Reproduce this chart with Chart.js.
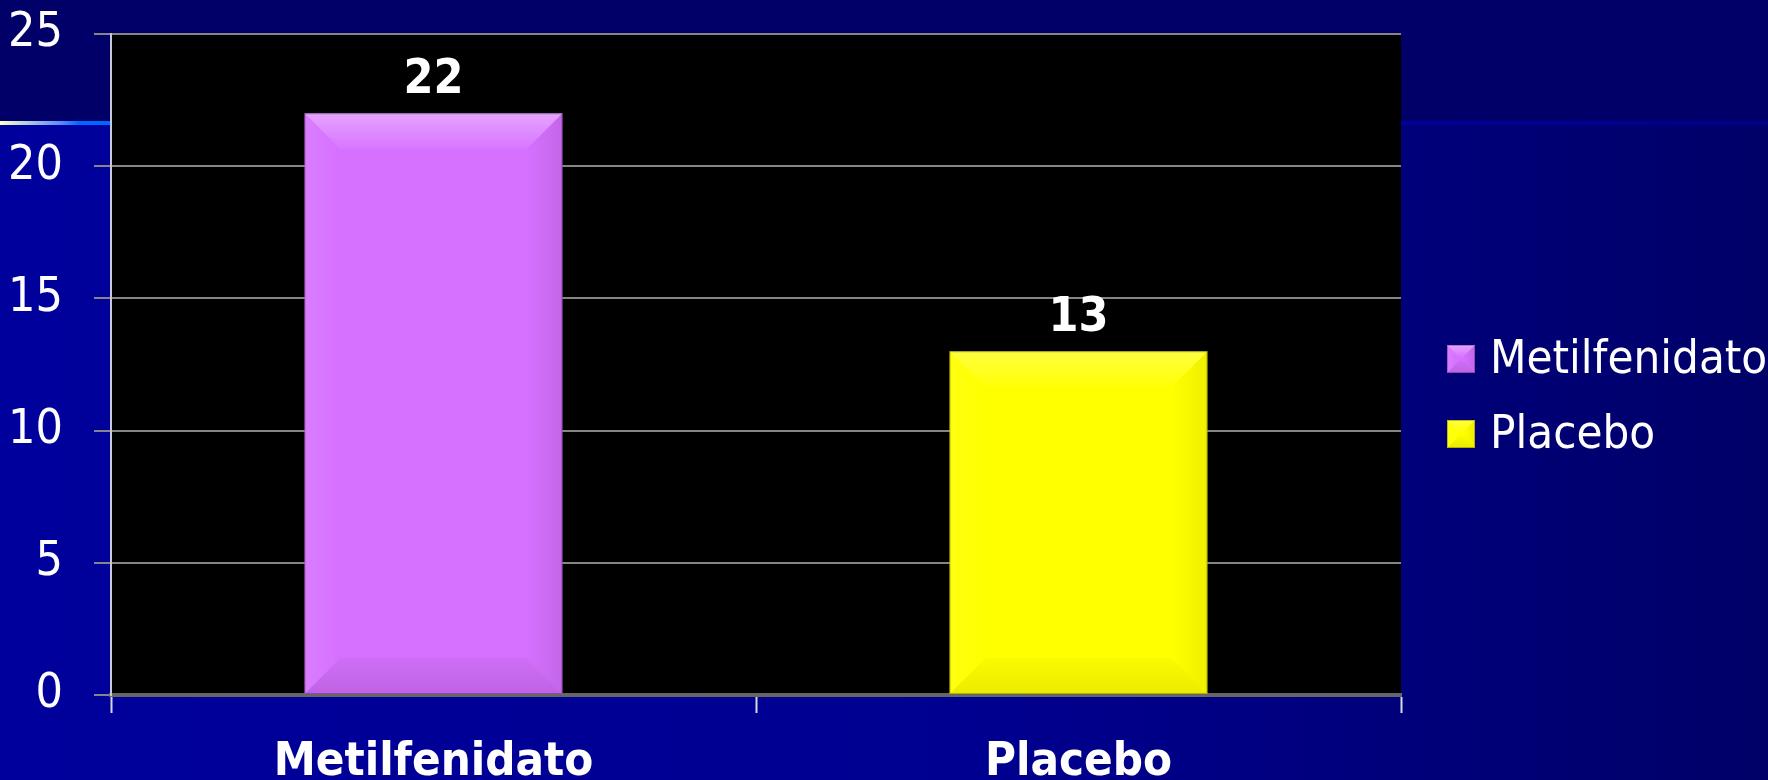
<!DOCTYPE html>
<html>
<head>
<meta charset="utf-8">
<script src="https://cdn.jsdelivr.net/npm/chart.js"></script>
<style>
  html, body { margin: 0; padding: 0; background: #000066; overflow: hidden; }
  #wrap { width: 1768px; height: 780px; position: relative; }
</style>
</head>
<body>
<div id="wrap"><canvas id="c" width="1768" height="780"></canvas></div>
<script>
// ---- data ----
const categories = ['Metilfenidato', 'Placebo'];
const values = [22, 13];
const barColors = ['#D670FF', '#FFFF00'];
const yMin = 0;
const yMax = 25;
const yStep = 5;

const FONT = "'DejaVu Sans Condensed', 'DejaVu Sans', sans-serif";

const backgroundPlugin = {
  id: 'bg',
  beforeDraw(chart) {
    const ctx = chart.ctx;
    const W = chart.width, H = chart.height;
    const a = chart.chartArea;
    ctx.save();
    // top band
    ctx.fillStyle = '#000068';
    ctx.fillRect(0, 0, W, 122);
    // lower band gradient
    const g = ctx.createLinearGradient(0, 0, W, 0);
    g.addColorStop(0, '#00009C');
    g.addColorStop(0.55, '#000090');
    g.addColorStop(1, '#000068');
    ctx.fillStyle = g;
    ctx.fillRect(0, 122, W, H - 122);
    // divider line
    const lg = ctx.createLinearGradient(0, 0, W, 0);
    lg.addColorStop(0, '#FFFFC8');
    lg.addColorStop(0.035, '#5588FF');
    lg.addColorStop(0.045, '#0066FF');
    lg.addColorStop(0.07, '#0066FF');
    lg.addColorStop(0.8, '#000099');
    lg.addColorStop(1, '#00008C');
    ctx.fillStyle = lg;
    ctx.fillRect(0, 121, W, 4);
    // plot area
    ctx.fillStyle = '#000000';
    ctx.fillRect(a.left, a.top, a.right - a.left, a.bottom - a.top);
    ctx.restore();
  }
};

function bevel(ctx, l, t, r, b, size, strength) {
  const s = Math.min(size, (r - l) / 2, (b - t) / 2);
  ctx.save();
  // top
  let g = ctx.createLinearGradient(0, t, 0, t + s);
  g.addColorStop(0, 'rgba(255,255,255,' + (0.36 * strength) + ')');
  g.addColorStop(1, 'rgba(255,255,255,' + (0.04 * strength) + ')');
  ctx.fillStyle = g;
  ctx.beginPath();
  ctx.moveTo(l, t); ctx.lineTo(r, t); ctx.lineTo(r - s, t + s); ctx.lineTo(l + s, t + s); ctx.closePath();
  ctx.fill();
  // left
  g = ctx.createLinearGradient(l, 0, l + s, 0);
  g.addColorStop(0, 'rgba(255,255,255,' + (0.09 * strength) + ')');
  g.addColorStop(1, 'rgba(255,255,255,0)');
  ctx.fillStyle = g;
  ctx.beginPath();
  ctx.moveTo(l, t); ctx.lineTo(l + s, t + s); ctx.lineTo(l + s, b - s); ctx.lineTo(l, b); ctx.closePath();
  ctx.fill();
  // right
  g = ctx.createLinearGradient(r - s, 0, r, 0);
  g.addColorStop(0, 'rgba(0,0,0,0)');
  g.addColorStop(1, 'rgba(0,0,0,' + (0.09 * strength) + ')');
  ctx.fillStyle = g;
  ctx.beginPath();
  ctx.moveTo(r, t); ctx.lineTo(r, b); ctx.lineTo(r - s, b - s); ctx.lineTo(r - s, t + s); ctx.closePath();
  ctx.fill();
  // bottom
  g = ctx.createLinearGradient(0, b - s, 0, b);
  g.addColorStop(0, 'rgba(0,0,0,' + (0.03 * strength) + ')');
  g.addColorStop(1, 'rgba(0,0,0,' + (0.11 * strength) + ')');
  ctx.fillStyle = g;
  ctx.beginPath();
  ctx.moveTo(l, b); ctx.lineTo(l + s, b - s); ctx.lineTo(r - s, b - s); ctx.lineTo(r, b); ctx.closePath();
  ctx.fill();
  // outline
  ctx.strokeStyle = 'rgba(0,0,0,0.25)';
  ctx.lineWidth = 1;
  ctx.strokeRect(l + 0.5, t + 0.5, r - l - 1, b - t - 1);
  ctx.restore();
}

const barDecorPlugin = {
  id: 'barDecor',
  afterDatasetsDraw(chart) {
    const ctx = chart.ctx;
    const meta = chart.getDatasetMeta(0);
    meta.data.forEach((bar, i) => {
      const p = bar.getProps(['x', 'y', 'base', 'width'], true);
      const l = p.x - p.width / 2, r = p.x + p.width / 2;
      const t = Math.min(p.y, p.base), b = Math.max(p.y, p.base);
      bevel(ctx, l, t, r, b, 36, i === 0 ? 1 : 0.7);
      // value label
      ctx.save();
      ctx.fillStyle = '#FFFFFF';
      ctx.font = 'bold 48px ' + FONT;
      ctx.textAlign = 'center';
      ctx.textBaseline = 'alphabetic';
      ctx.fillText(String(chart.data.datasets[0].data[i]), p.x, t - 20);
      ctx.restore();
    });
  }
};

const legendPlugin = {
  id: 'customLegend',
  afterDraw(chart) {
    const ctx = chart.ctx;
    const a = chart.chartArea;
    const x0 = a.right + 46;
    const yc0 = 359;
    const step = 75;
    ctx.save();
    ctx.font = '47px ' + FONT;
    ctx.textBaseline = 'middle';
    ctx.textAlign = 'left';
    chart.data.labels.forEach((lab, i) => {
      const yc = yc0 + i * step;
      const sz = 28;
      ctx.fillStyle = barColors[i];
      ctx.fillRect(x0, yc - sz / 2, sz, sz);
      bevel(ctx, x0, yc - sz / 2, x0 + sz, yc + sz / 2, 12, i === 0 ? 1 : 0.7);
      ctx.fillStyle = '#FFFFFF';
      ctx.fillText(lab, x0 + 43, yc + 2);
    });
    ctx.restore();
  }
};

new Chart(document.getElementById('c'), {
  type: 'bar',
  data: {
    labels: categories,
    datasets: [{
      label: 'Valores',
      data: values,
      backgroundColor: barColors,
      borderWidth: 0,
      barPercentage: 0.4,
      categoryPercentage: 1.0
    }]
  },
  options: {
    responsive: false,
    devicePixelRatio: 1,
    animation: false,
    layout: { padding: { top: 34, right: 367, left: 0, bottom: 0 } },
    plugins: {
      legend: { display: false },
      tooltip: { enabled: false }
    },
    scales: {
      x: {
        afterFit(scale) { scale.height = 85; },
        grid: {
          offset: true,
          drawOnChartArea: false,
          drawTicks: true,
          tickLength: 18,
          tickColor: '#D8D8E8',
          tickWidth: 2
        },
        border: { display: true, color: '#666666', width: 4 },
        ticks: {
          color: '#FFFFFF',
          font: { family: FONT, size: 47, weight: 'bold' },
          padding: 22,
          maxRotation: 0,
          autoSkip: false
        }
      },
      y: {
        min: yMin,
        max: yMax,
        afterFit(scale) {
          scale.width = 111;
          scale.paddingTop = 0;
          scale.paddingBottom = 0;
        },
        ticks: {
          stepSize: yStep,
          color: '#FFFFFF',
          font: { family: FONT, size: 48 },
          padding: 31
        },
        grid: {
          color: '#858585',
          lineWidth: 2,
          tickLength: 17,
          drawTicks: true
        },
        border: { display: true, color: '#C8C8D8', width: 2 }
      }
    }
  },
  plugins: [backgroundPlugin, barDecorPlugin, legendPlugin]
});
</script>
</body>
</html>
